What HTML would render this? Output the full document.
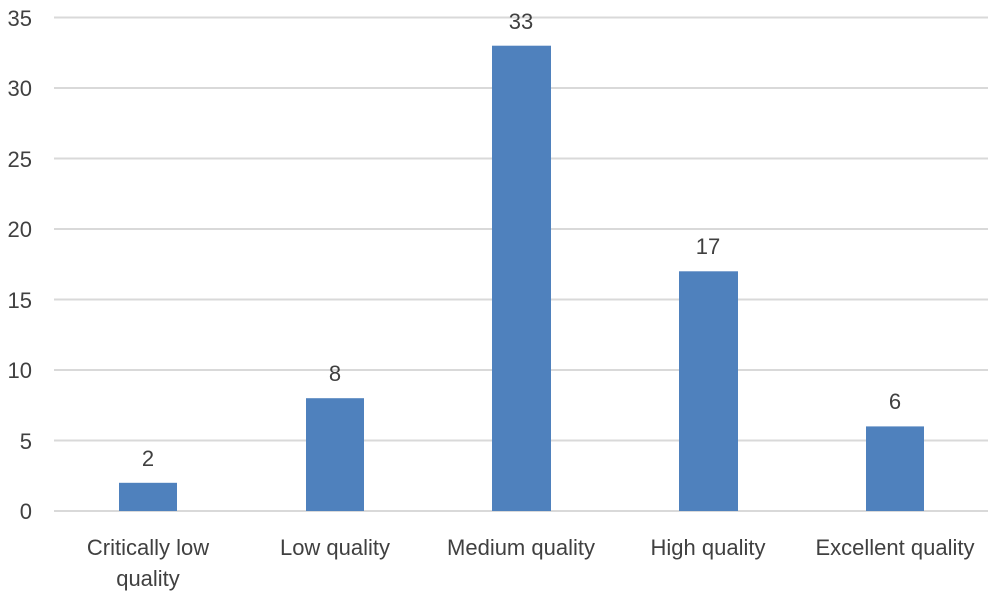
<!DOCTYPE html>
<html><head><meta charset="utf-8"><style>
body{margin:0;background:#fff}
svg text{font-family:"Liberation Sans",sans-serif;fill:#404040;font-size:22px}
</style></head><body>
<svg width="996" height="594" xmlns="http://www.w3.org/2000/svg">
<g stroke="#d9d9d9" stroke-width="2">
<line x1="54" x2="988" y1="17.5" y2="17.5"/>
<line x1="54" x2="988" y1="88" y2="88"/>
<line x1="54" x2="988" y1="158.5" y2="158.5"/>
<line x1="54" x2="988" y1="229" y2="229"/>
<line x1="54" x2="988" y1="299.5" y2="299.5"/>
<line x1="54" x2="988" y1="370" y2="370"/>
<line x1="54" x2="988" y1="440.5" y2="440.5"/>
<line x1="54" x2="988" y1="511" y2="511"/>
</g>
<g text-anchor="end">
<text x="32" y="26">35</text><text x="32" y="96">30</text><text x="32" y="167">25</text>
<text x="32" y="237">20</text><text x="32" y="308">15</text><text x="32" y="378">10</text>
<text x="32" y="449">5</text><text x="32" y="519">0</text>
</g>
<g fill="#4f81bd">
<rect x="119" y="482.8" width="58" height="28.2"/>
<rect x="306" y="398.2" width="58" height="112.8"/>
<rect x="492" y="45.7" width="59" height="465.3"/>
<rect x="679" y="271.3" width="59" height="239.7"/>
<rect x="866" y="426.4" width="58" height="84.6"/>
</g>
<g text-anchor="middle">
<text x="148" y="466">2</text><text x="335" y="381">8</text><text x="521" y="29">33</text>
<text x="708" y="254">17</text><text x="895" y="409">6</text>
<text x="148" y="555">Critically low</text><text x="148" y="586">quality</text>
<text x="335" y="555">Low quality</text><text x="521" y="555">Medium quality</text>
<text x="708" y="555">High quality</text><text x="895" y="555">Excellent quality</text>
</g>
</svg>
</body></html>
